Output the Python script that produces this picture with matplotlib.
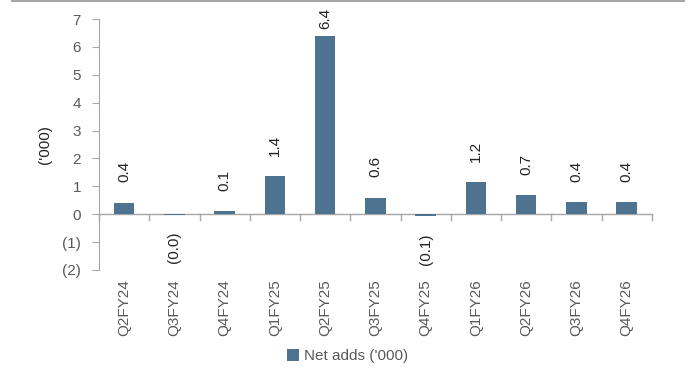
import matplotlib.pyplot as plt
import numpy as np

plt.rcParams['font.family'] = ['Liberation Sans', 'DejaVu Sans']

quarters = ["Q2FY24", "Q3FY24", "Q4FY24", "Q1FY25", "Q2FY25", "Q3FY25",
            "Q4FY25", "Q1FY26", "Q2FY26", "Q3FY26", "Q4FY26"]
net_adds = [0.42, -0.02, 0.12, 1.38, 6.38, 0.6, -0.08, 1.15, 0.7, 0.43, 0.43]
labels = ["0.4", "(0.0)", "0.1", "1.4", "6.4", "0.6", "(0.1)", "1.2", "0.7", "0.4", "0.4"]

grey = "#595959"
bar_col = "#4e7391"

fig = plt.figure(figsize=(6.91, 3.69), dpi=100)
ax = fig.add_axes([0.1433, 0.2683, 0.8, 0.68])

x = np.arange(len(quarters))
ax.bar(x, net_adds, width=0.41, color=bar_col, label="Net adds ('000)", zorder=2)

for xi, v, lab in zip(x, net_adds, labels):
    if v >= 0:
        # labels sit ~20px above the bar, but are kept inside the plot top
        ax.text(xi, min(v + 0.72, 6.63), lab, rotation=90, ha="center",
                va="bottom", fontsize=11, color="#222222")
    else:
        ax.text(xi, v - 0.6, lab, rotation=90, ha="center", va="top",
                fontsize=11, color="#222222")

ax.set_xlim(-0.5, len(quarters) - 0.5)
ax.set_ylim(-2, 7)
ax.set_yticks(range(-2, 8))
ax.set_yticklabels(["(2)", "(1)"] + [str(i) for i in range(0, 8)])
ax.set_ylabel("('000)", fontsize=11, color="#222222", labelpad=7)

for s in ["top", "right", "bottom"]:
    ax.spines[s].set_visible(False)
ax.spines["left"].set_color("#a6a6a6")
ax.axhline(0, color="#a6a6a6", lw=1, zorder=1)

# category separators as small ticks below the zero line
for b in np.arange(len(quarters) + 1) - 0.5:
    ax.plot([b, b], [0, -0.2], color="#a6a6a6", lw=1, clip_on=False)

ax.set_xticks(x)
ax.set_xticklabels(quarters, rotation=90, fontsize=11, color=grey)
ax.tick_params(axis="x", length=0, pad=7)
ax.tick_params(axis="y", colors="#a6a6a6", labelcolor=grey, labelsize=11,
               length=5, direction="out", pad=8)

leg = fig.legend(loc="center", bbox_to_anchor=(0.503, 0.035), frameon=False,
                 fontsize=11, handlelength=0.8, handleheight=0.8,
                 handletextpad=0.3)
for t in leg.get_texts():
    t.set_color(grey)

fig.add_artist(plt.Line2D([0.017, 0.99], [0.998, 0.998], color="#a6a6a6",
                          lw=1.5, transform=fig.transFigure))

fig.savefig("out.png", dpi=100)
